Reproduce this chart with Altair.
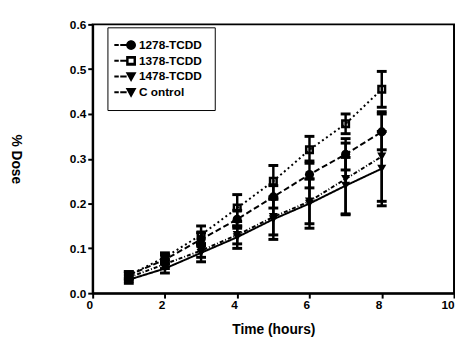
import altair as alt
import pandas as pd

hours = [1, 2, 3, 4, 5, 6, 7, 8]
series_names = ["1278-TCDD", "1378-TCDD", "1478-TCDD", "C ontrol"]
mean_1278 = [0.040, 0.075, 0.120, 0.165, 0.215, 0.265, 0.310, 0.360]
mean_1378 = [0.040, 0.080, 0.130, 0.190, 0.250, 0.320, 0.378, 0.455]
mean_1478 = [0.035, 0.065, 0.095, 0.130, 0.170, 0.205, 0.255, 0.305]
mean_ctrl = [0.030, 0.055, 0.090, 0.125, 0.165, 0.200, 0.240, 0.278]
err_1278 = [0.008, 0.010, 0.015, 0.020, 0.025, 0.030, 0.035, 0.040]
err_1378 = [0.008, 0.010, 0.020, 0.030, 0.035, 0.030, 0.022, 0.040]
err_1478 = [0.008, 0.010, 0.015, 0.020, 0.040, 0.050, 0.080, 0.100]
err_ctrl = [0.008, 0.010, 0.020, 0.025, 0.045, 0.055, 0.063, 0.083]

rows = []
for name, m, e in zip(series_names,
                      [mean_1278, mean_1378, mean_1478, mean_ctrl],
                      [err_1278, err_1378, err_1478, err_ctrl]):
    for h, v, s in zip(hours, m, e):
        rows.append({"hour": h, "dose": v, "lo": v - s, "hi": v + s, "series": name})
df = pd.DataFrame(rows)

FONT = "Liberation Sans"
x = alt.X("hour:Q", scale=alt.Scale(domain=[0, 10], nice=False),
          axis=alt.Axis(values=[0, 2, 4, 6, 8, 10], title="Time (hours)", grid=False,
                        format="d", labelAlign="right"))
y = alt.Y("dose:Q", scale=alt.Scale(domain=[0, 0.6], nice=False),
          axis=alt.Axis(values=[0, 0.1, 0.2, 0.3, 0.4, 0.5, 0.6], format=".1f",
                        title="% Dose", titleAngle=90, titlePadding=62, grid=False))

# plot marker shapes
plot_shapes = [
    "circle",
    "M-1,-1H1V1H-1Z M-0.45,-0.45V0.45H0.45V-0.45Z",
    "triangle-down",
    "triangle-down",
]
# legend symbols: dashed line segment + marker
dash = "M-2.2,-0.2H-1.3V0.2H-2.2Z M-1.0,-0.2H0.3V0.2H-1.0Z "
legend_shapes = [
    dash + "M2.2,0A1,1,0,1,1,0.2,0A1,1,0,1,1,2.2,0Z",
    dash + "M0.2,-1H2.2V1H0.2Z M0.7,-0.4V0.4H1.7V-0.4Z",
    dash + "M0.1,-0.9H2.3L1.2,1.1Z",
    dash + "M0.1,-0.9H2.3L1.2,1.1Z",
]

dash_scale = alt.Scale(domain=series_names,
                       range=[[6, 3], [2, 3], [4, 2, 1, 2], [1, 0]])

leg = alt.Legend(title=None, orient="none", legendX=15, legendY=3,
                 strokeColor="black", padding=12, labelFont=FONT, labelFontSize=12,
                 labelFontWeight="bold", labelColor="black", symbolFillColor="black",
                 symbolStrokeWidth=0, symbolOpacity=1, symbolSize=100, labelOffset=8,
                 rowPadding=4, labelLimit=200, labelExpr="datum.label + '   '")

lines = alt.Chart(df).mark_line(color="black", strokeWidth=2).encode(
    x=x, y=y, strokeDash=alt.StrokeDash("series:N", scale=dash_scale, legend=None,
                                        sort=series_names))
bars = alt.Chart(df).mark_rule(color="black", strokeWidth=2.5).encode(
    x="hour:Q", y="lo:Q", y2="hi:Q", detail="series:N")
cap_hi = alt.Chart(df).mark_tick(color="black", thickness=3, size=10, opacity=1,
                                 orient="horizontal").encode(x="hour:Q", y="hi:Q")
cap_lo = alt.Chart(df).mark_tick(color="black", thickness=3, size=10, opacity=1,
                                 orient="horizontal").encode(x="hour:Q", y="lo:Q")
points = alt.Chart(df).mark_point(filled=True, color="black", size=85, opacity=1).encode(
    x="hour:Q", y="dose:Q",
    shape=alt.Shape("series:N", scale=alt.Scale(domain=series_names, range=plot_shapes),
                    legend=None, sort=series_names))
legend_layer = alt.Chart(df).mark_point(filled=True, color="black", opacity=0).encode(
    x="hour:Q", y="dose:Q",
    shape=alt.Shape("series:N", scale=alt.Scale(domain=series_names, range=legend_shapes),
                    legend=leg, sort=series_names))

chart = alt.layer(lines, bars, cap_hi, cap_lo, points, legend_layer).resolve_scale(
    shape="independent"
).properties(
    width=454, height=336,
    autosize=alt.AutoSizeParams(type="fit", contains="padding"),
    padding={"left": 0, "top": 8, "right": 0, "bottom": 5}
).configure_view(stroke="black", strokeWidth=2).configure_axis(
    domainColor="black", domainWidth=2, tickColor="black", tickWidth=2, tickSize=5,
    labelFont=FONT, labelFontSize=12, labelFontWeight="bold", labelColor="black",
    titleFont=FONT, titleFontSize=14, titleFontWeight="bold", titleColor="black"
).configure_axisX(titlePadding=12)

chart.save("out.html", embed_options={"renderer": "svg", "actions": False})
